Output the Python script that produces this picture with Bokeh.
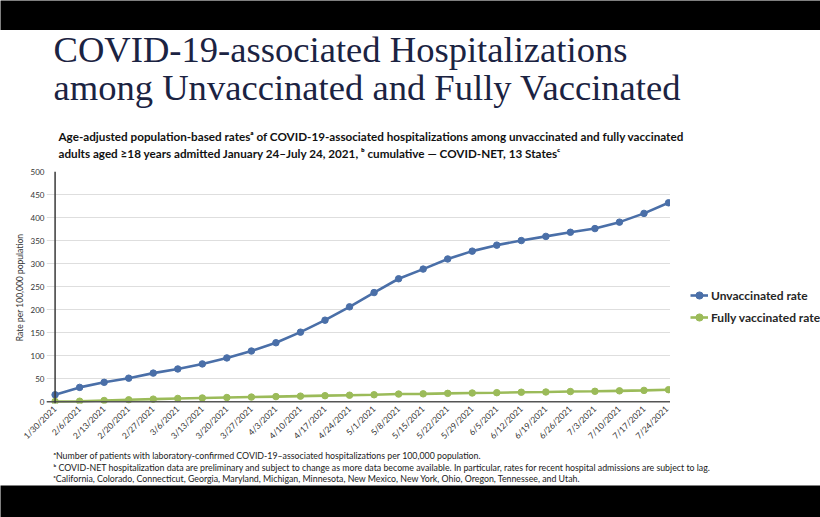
import math
from bokeh.plotting import figure
from bokeh.models import Range1d, FixedTicker, Label, Span, Legend, LegendItem
from bokeh.layouts import column, row
from bokeh.embed import file_html
from bokeh.resources import INLINE

# ---------------- data ----------------
dates = ["1/30/2021", "2/6/2021", "2/13/2021", "2/20/2021", "2/27/2021", "3/6/2021",
         "3/13/2021", "3/20/2021", "3/27/2021", "4/3/2021", "4/10/2021", "4/17/2021",
         "4/24/2021", "5/1/2021", "5/8/2021", "5/15/2021", "5/22/2021", "5/29/2021",
         "6/5/2021", "6/12/2021", "6/19/2021", "6/26/2021", "7/3/2021", "7/10/2021",
         "7/17/2021", "7/24/2021"]
unvaccinated = [15, 31, 42, 51, 62, 71, 82, 95, 110, 128, 151, 177, 206, 237, 267,
                288, 310, 327, 340, 350, 359, 368, 376, 390, 409, 432]
vaccinated = [0.5, 1, 2.5, 4, 5.5, 7, 8, 9, 10, 11, 12, 13, 14, 15, 16.5, 17, 18,
              18.8, 19.5, 20.5, 21, 22, 22.5, 23.5, 24.5, 26]
y_ticks = [0, 50, 100, 150, 200, 250, 300, 350, 400, 450, 500]

title_lines = ["COVID-19-associated Hospitalizations",
               "among Unvaccinated and Fully Vaccinated"]
subtitle_lines = ["Age-adjusted population-based rates\u1d43 of COVID-19-associated hospitalizations among unvaccinated and fully vaccinated",
                  "adults aged \u226518 years admitted January 24\u2013July 24, 2021, \u1d47 cumulative \u2014 COVID-NET, 13 States\u1d9c"]
footnotes = ["\u1d43Number of patients with laboratory-confirmed COVID-19\u2013associated hospitalizations per 100,000 population.",
             "\u1d47 COVID-NET hospitalization data are preliminary and subject to change as more data become available. In particular, rates for recent hospital admissions are subject to lag.",
             "\u1d9cCalifornia, Colorado, Connecticut, Georgia, Maryland, Michigan, Minnesota, New Mexico, New York, Ohio, Oregon, Tennessee, and Utah."]
y_label = "Rate per 100,000 population"
series_names = ["Unvaccinated rate", "Fully vaccinated rate"]

BLUE = "#4a6fa8"
GREEN = "#9bbb59"
SANS = "Lato"
W = 820

xs = list(range(len(dates)))


def blank(w, h, bg):
    b = figure(width=w, height=h, output_backend="svg", toolbar_location=None,
               title=None, min_border=0, x_range=Range1d(0, 1), y_range=Range1d(0, 1),
               frame_align=False)
    b.background_fill_color = bg
    b.border_fill_color = bg
    b.outline_line_color = None
    b.axis.visible = False
    b.grid.visible = False
    return b


def text(fig, x, y, t, size, color="#222222", font=SANS, style="normal",
         baseline="middle"):
    fig.add_layout(Label(x=x, y=y, x_units="screen", y_units="screen", text=t,
                         text_font=font, text_font_size=size, text_font_style=style,
                         text_color=color, text_baseline=baseline, text_align="left"))


# ---------------- header ----------------
HH = 130
header = blank(W, HH, "white")
text(header, 53, 160 - 49, title_lines[0], "36.6px", color="#1b2342",
     font="Liberation Serif", baseline="alphabetic")
text(header, 53, 160 - 87, title_lines[1], "36.6px", color="#1b2342",
     font="Liberation Serif", baseline="alphabetic")
text(header, 58, 160 - 135, subtitle_lines[0], "11.7px", color="#111111", style="bold")
text(header, 58, 160 - 152, subtitle_lines[1], "11.7px", color="#111111", style="bold")

# ---------------- main chart ----------------
MH = 287
MW = 670
p = figure(width=MW, height=MH, x_range=Range1d(-0.35, 25.08), y_range=Range1d(-4, 500),
           output_backend="svg", toolbar_location=None, title=None,
           min_border_left=46, min_border_right=0, min_border_top=11,
           min_border_bottom=43, frame_align=False)
p.outline_line_color = None
p.background_fill_color = "white"
p.border_fill_color = "white"

for ax in (p.xaxis[0], p.yaxis[0]):
    ax.axis_line_color = None
    ax.major_tick_line_color = None
    ax.minor_tick_line_color = None
    ax.major_tick_out = 0
    ax.major_tick_in = 0
    ax.minor_tick_out = 0
    ax.minor_tick_in = 0
    ax.major_label_text_font = SANS
    ax.major_label_text_color = "#333333"

p.xaxis.ticker = FixedTicker(ticks=xs)
p.xaxis.major_label_overrides = {i: d for i, d in enumerate(dates)}
p.xaxis.major_label_orientation = math.pi / 4
p.xaxis.major_label_text_font_size = "8.5px"
p.xaxis.major_label_standoff = 4

p.yaxis.ticker = FixedTicker(ticks=y_ticks)
p.yaxis.major_label_text_font_size = "8px"
p.yaxis.major_label_standoff = 2
p.yaxis.axis_label = y_label
p.yaxis.axis_label_text_font = SANS
p.yaxis.axis_label_text_font_size = "8.5px"
p.yaxis.axis_label_text_font_style = "normal"
p.yaxis.axis_label_text_color = "#333333"
p.yaxis.axis_label_standoff = 3

p.xgrid.visible = False
p.ygrid.grid_line_color = "#dedede"
p.ygrid.grid_line_width = 1

p.add_layout(Span(location=0, dimension="width", line_color="#555555", line_width=1.5))
p.add_layout(Span(location=0, dimension="height", line_color="#3a3a3a", line_width=1.5))

line_kw = dict(line_width=2.6)
dot_kw = dict(size=6.5)
p.line(xs, unvaccinated, line_color=BLUE, **line_kw)
p.scatter(xs, unvaccinated, fill_color=BLUE, line_color=BLUE, **dot_kw)
p.line(xs, vaccinated, line_color=GREEN, **line_kw)
p.scatter(xs, vaccinated, fill_color=GREEN, line_color=GREEN, **dot_kw)

# ---------------- legend panel (same series, range kept off-screen) ----------------
lg = figure(width=W - MW, height=MH, output_backend="svg", toolbar_location=None,
            title=None, min_border=0, frame_align=False,
            x_range=Range1d(-1000, -999), y_range=Range1d(-1000, -999))
lg.outline_line_color = None
lg.axis.visible = False
lg.grid.visible = False
g1 = lg.line(xs, unvaccinated, line_color=BLUE, **line_kw)
d1 = lg.scatter(xs, unvaccinated, fill_color=BLUE, line_color=BLUE, **dot_kw)
g2 = lg.line(xs, vaccinated, line_color=GREEN, **line_kw)
d2 = lg.scatter(xs, vaccinated, fill_color=GREEN, line_color=GREEN, **dot_kw)
legend = Legend(items=[LegendItem(label=series_names[0], renderers=[g1, d1]),
                       LegendItem(label=series_names[1], renderers=[g2, d2])],
                location=(20, 120), padding=0, margin=0, spacing=2,
                glyph_width=18, glyph_height=20, label_height=20, label_standoff=3,
                background_fill_alpha=0, border_line_alpha=0,
                label_text_font=SANS, label_text_font_style="bold",
                label_text_font_size="12px", label_text_color="#262626")
lg.add_layout(legend)

# ---------------- footer ----------------
FH = 38
footer = blank(W, FH, "white")
text(footer, 53, 485 - 455, footnotes[0], "8.8px")
text(footer, 53, 485 - 467, footnotes[1], "8.8px")
text(footer, 53, 485 - 478, footnotes[2], "8.8px")

layout = column(blank(W, 30, "black"), header, row(p, lg, spacing=0), footer,
                blank(W, 32, "black"), spacing=0)

open("out.html", "w").write(file_html(layout, INLINE))
